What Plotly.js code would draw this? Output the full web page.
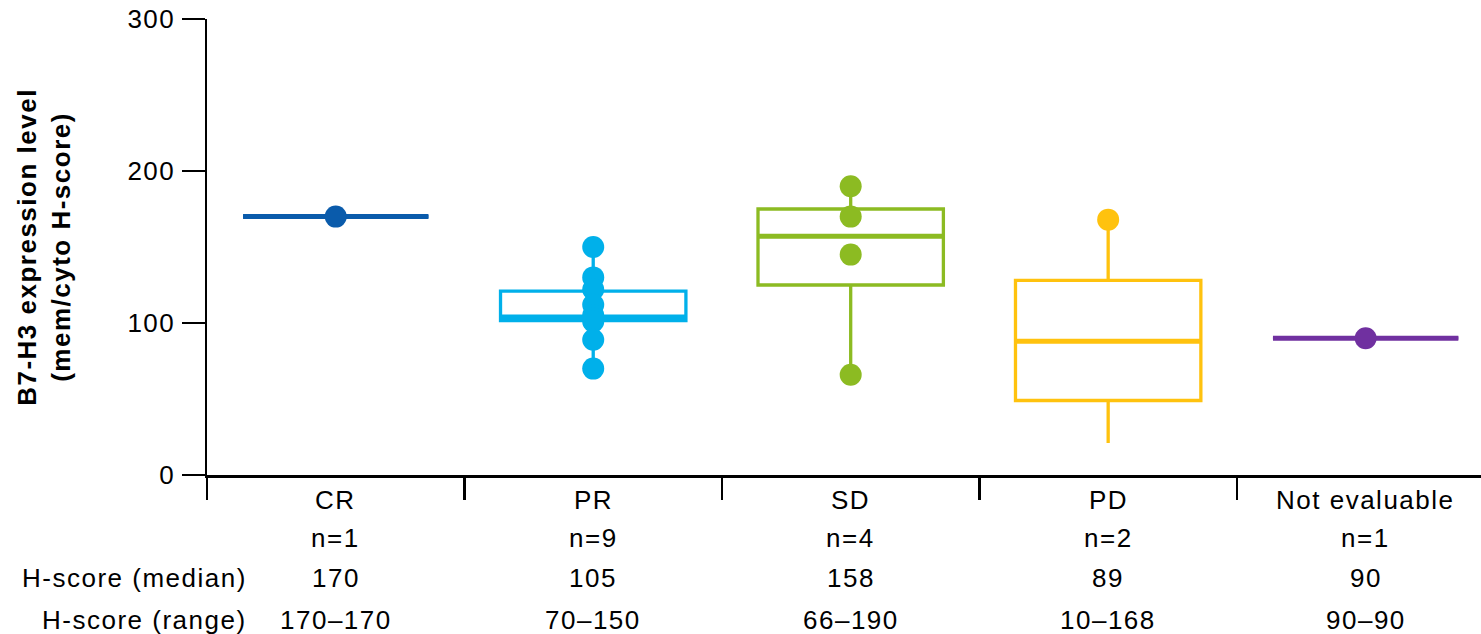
<!DOCTYPE html>
<html>
<head>
<meta charset="utf-8">
<script src="https://cdn.plot.ly/plotly-3.0.1.min.js"></script>
<style>
html,body{margin:0;padding:0;background:#fff;}
#chart{width:1481px;height:634px;}
svg text{letter-spacing:1.5px;}
</style>
</head>
<body>
<div id="chart"></div>
<script>
// ---- data ----
const categories = ['CR', 'PR', 'SD', 'PD', 'Not evaluable'];
const nLabels = ['n=1', 'n=9', 'n=4', 'n=2', 'n=1'];
const medianLabels = ['170', '105', '158', '89', '90'];
const rangeLabels = ['170–170', '70–150', '66–190', '10–168', '90–90'];
const rowLabels = ['H-score (median)', 'H-score (range)'];

const boxQ1 = [170, 101.5, 125, 49, 90];
const boxMedian = [170, 104, 157, 88, 90];
const boxQ3 = [170, 121, 175, 128, 90];
const boxLower = [170, 70, 66, 21, 90];
const boxUpper = [170, 150, 190, 168, 90];

const pointsCR = [170];
const pointsPR = [150, 130, 122, 112, 105, 103, 101, 89, 70];
const pointsSD = [190, 170, 145, 66];
const pointsPD = [168];
const pointsNE = [90];
const groupPoints = [pointsCR, pointsPR, pointsSD, pointsPD, pointsNE];

const yTicks = [0, 100, 200, 300];

// ---- style ----
const colors = ['#0A5BAB', '#00B0EA', '#8CBB22', '#FFC20E', '#7030A0'];
const FONT = 'Liberation Sans, Arial, Helvetica, sans-serif';

const traces = [];
categories.forEach((c, i) => {
  traces.push({
    type: 'box', x: [c], q1: [boxQ1[i]], median: [boxMedian[i]], q3: [boxQ3[i]],
    lowerfence: [boxLower[i]], upperfence: [boxUpper[i]],
    width: 0.72, whiskerwidth: 0, boxpoints: false,
    line: {color: colors[i], width: 3.3}, fillcolor: 'rgba(255,255,255,0)',
    showlegend: false, hoverinfo: 'skip'
  });
  // thicker median line
  traces.push({
    type: 'box', x: [c], q1: [boxMedian[i]], median: [boxMedian[i]], q3: [boxMedian[i]],
    lowerfence: [boxMedian[i]], upperfence: [boxMedian[i]],
    width: 0.72, whiskerwidth: 0, boxpoints: false,
    line: {color: colors[i], width: 5}, fillcolor: 'rgba(255,255,255,0)',
    showlegend: false, hoverinfo: 'skip'
  });
});
categories.forEach((c, i) => {
  traces.push({
    type: 'scatter', mode: 'markers',
    x: groupPoints[i].map(() => c), y: groupPoints[i],
    marker: {color: colors[i], size: 22, line: {width: 0}},
    showlegend: false, hoverinfo: 'skip'
  });
});

const annotations = [];
const rows = [categories, nLabels, medianLabels, rangeLabels];
const rowShift = [-25, -63, -103, -145];
rows.forEach((row, r) => {
  row.forEach((t, i) => {
    annotations.push({
      xref: 'x', yref: 'paper', x: categories[i], y: 0,
      xanchor: 'center', yanchor: 'middle', yshift: rowShift[r],
      text: t, showarrow: false, font: {family: FONT, size: 26, color: '#000'}
    });
  });
});
rowLabels.forEach((t, k) => {
  annotations.push({
    xref: 'paper', yref: 'paper', x: (249 - 207) / 1274, y: 0,
    xanchor: 'right', yanchor: 'middle', yshift: rowShift[k + 2],
    text: t, showarrow: false, font: {family: FONT, size: 26, color: '#000'}
  });
});

const layout = {
  width: 1481, height: 634,
  margin: {l: 207, r: 0, t: 19, b: 159, pad: 0},
  paper_bgcolor: '#fff', plot_bgcolor: '#fff',
  boxmode: 'overlay',
  font: {family: FONT, color: '#000'},
  xaxis: {
    type: 'category', categoryorder: 'array', categoryarray: categories,
    range: [-0.5, 4.448],
    showline: true, linecolor: '#000', linewidth: 2.5,
    ticks: 'outside', tickson: 'boundaries', ticklen: 22, tickwidth: 2.5, tickcolor: '#000',
    showticklabels: false, showgrid: false, zeroline: false
  },
  yaxis: {
    range: [0, 300], tickvals: yTicks, ticktext: yTicks.map(String),
    showline: true, linecolor: '#000', linewidth: 2.5,
    ticks: 'outside', ticklen: 23, tickwidth: 2.5, tickcolor: '#000',
    ticklabelstandoff: 1,
    tickfont: {family: FONT, size: 26, color: '#000'},
    showgrid: false, zeroline: false,
    title: {text: '<b>B7-H3 expression level<br>(mem/cyto H-score)</b>', standoff: 50,
            font: {family: FONT, size: 26, color: '#000'}}
  },
  annotations: annotations
};

Plotly.newPlot('chart', traces, layout, {displayModeBar: false, staticPlot: true});
</script>
</body>
</html>
